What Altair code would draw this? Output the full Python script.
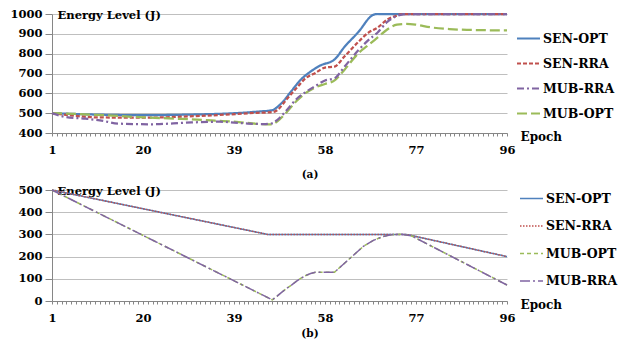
import altair as alt
import pandas as pd

FONT = "DejaVu Serif"

# ---------------- Panel (a) data ----------------
a_series = ["SEN-OPT", "SEN-RRA", "MUB-RRA", "MUB-OPT"]
a_colors = ["#4F81BD", "#C0504D", "#8064A2", "#9BBB59"]
a_dashes = [[1, 0], [4, 2], [7, 3, 2, 3], [10, 4]]

a_sen_opt_ep = [1, 10, 20, 30, 40, 44, 47, 48, 49, 51, 53, 55, 57, 60, 62, 65, 68, 69, 96]
a_sen_opt_v = [500, 493, 490, 493, 501, 508, 515, 530, 552, 612, 670, 710, 740, 771, 832, 910, 995, 1000, 1000]

a_sen_rra_ep = [1, 6, 10, 20, 28, 36, 44, 47, 48, 50, 52, 54, 56, 58, 60, 62, 65, 67, 69, 71, 73, 74, 96]
a_sen_rra_v = [500, 486, 479, 477, 482, 491, 502, 505, 515, 570, 625, 677, 703, 730, 735, 784, 860, 905, 932, 972, 992, 1000, 1000]

a_mub_rra_ep = [1, 4, 8, 11, 15, 22, 29, 36, 41, 45, 47, 48, 50, 52, 54, 56, 58, 60, 62, 65, 67, 69, 71, 73, 75, 96]
a_mub_rra_v = [500, 480, 472, 464, 447, 444, 452, 457, 449, 445, 449, 465, 515, 570, 607, 637, 665, 676, 732, 818, 867, 907, 960, 990, 1000, 1000]

a_mub_opt_ep = [1, 10, 20, 28, 35, 40, 44, 47, 48, 50, 52, 54, 56, 58, 60, 62, 65, 67, 69, 71, 73, 75, 77, 80, 84, 88, 96]
a_mub_opt_v = [500, 492, 479, 471, 462, 455, 446, 444, 458, 505, 560, 602, 630, 647, 665, 717, 803, 842, 882, 922, 946, 950, 946, 933, 924, 920, 917]

# ---------------- Panel (b) data ----------------
b_series = ["SEN-OPT", "SEN-RRA", "MUB-OPT", "MUB-RRA"]
b_colors = ["#4F81BD", "#C0504D", "#9BBB59", "#8064A2"]
b_dashes = [[1, 0], [1.5, 1.5], [4, 3], [10, 3, 2, 3]]

b_sen_ep = [1, 46, 75, 96]
b_sen_v = [500, 300, 300, 200]

b_mub_ep = [1, 47, 48, 49, 50, 51, 52, 53, 54, 55, 56, 60, 63, 66, 68, 70, 72, 74, 76, 96]
b_mub_v = [500, 5, 22, 40, 57, 72, 88, 103, 115, 124, 129, 130, 188, 246, 272, 290, 299, 301, 294, 72]

x_label_vals = [1, 20, 39, 58, 77, 96]


def frame(pairs):
    rows = []
    for name, eps, vals in pairs:
        for e, v in zip(eps, vals):
            rows.append({"series": name, "epoch": e, "value": v})
    return pd.DataFrame(rows)


df_a = frame([
    ("SEN-OPT", a_sen_opt_ep, a_sen_opt_v),
    ("SEN-RRA", a_sen_rra_ep, a_sen_rra_v),
    ("MUB-OPT", a_mub_opt_ep, a_mub_opt_v),
    ("MUB-RRA", a_mub_rra_ep, a_mub_rra_v),
])
df_b = frame([
    ("SEN-OPT", b_sen_ep, b_sen_v),
    ("SEN-RRA", b_sen_ep, b_sen_v),
    ("MUB-OPT", b_mub_ep, b_mub_v),
    ("MUB-RRA", b_mub_ep, b_mub_v),
])

W = 455
HA = 119
HB = 111
GRAY = "#868686"
label_expr = "indexof([" + ",".join(str(v) for v in x_label_vals) + "], datum.value) >= 0 ? datum.label : ''"


def panel(df, series, colors, dashes, ydom, ystep, h, width_px, legend_y, legend_x, row_pad, tag, tag_y, interp):
    xaxis = alt.Axis(
        values=list(range(1, 97)), labelExpr=label_expr, labelOverlap=False,
        grid=False, tickSize=3, tickColor=GRAY, domainColor=GRAY,
        labelFont=FONT, labelFontWeight="bold", labelFontSize=11.5, labelColor="black",
        labelPadding=8, labelFlush=False,
        title="Epoch", titleFont=FONT, titleFontWeight="bold", titleFontSize=12,
        titleX=W + 13, titleY=3, titleAlign="left", titleBaseline="middle", titleAnchor="start",
    )
    yaxis = alt.Axis(
        values=list(range(ydom[0], ydom[1] + 1, ystep)), format="d", grid=True, gridColor="#BFBFBF",
        tickSize=7, tickColor=GRAY, domainColor=GRAY,
        labelFont=FONT, labelFontWeight="bold", labelFontSize=11.5, labelColor="black",
        labelPadding=3,
        title="Energy Level (J)", titleFont=FONT, titleFontWeight="bold", titleFontSize=11.5,
        titleAngle=0, titleX=5, titleY=1, titleAlign="left", titleBaseline="middle",
    )
    legend = alt.Legend(
        orient="none", legendX=legend_x, legendY=legend_y, title=None, padding=0,
        symbolType="stroke", symbolSize=529, symbolStrokeWidth=min(width_px, 2),
        labelFont=FONT, labelFontWeight="bold", labelFontSize=12.5, labelColor="black",
        labelOffset=2, rowPadding=row_pad,
    )
    lines = alt.Chart(df).mark_line(strokeWidth=width_px, interpolate=interp).encode(
        x=alt.X("epoch:Q", scale=alt.Scale(domain=[1, 96], nice=False, zero=False), axis=xaxis),
        y=alt.Y("value:Q", scale=alt.Scale(domain=ydom, nice=False, zero=False), axis=yaxis),
        color=alt.Color("series:N", scale=alt.Scale(domain=series, range=colors), legend=legend),
        strokeDash=alt.StrokeDash("series:N", scale=alt.Scale(domain=series, range=dashes), legend=legend),
        detail="series:N",
    )
    label = alt.Chart(pd.DataFrame({"t": [tag]})).mark_text(
        font=FONT, fontWeight="bold", fontSize=10.5, color="black", align="center", baseline="middle"
    ).encode(text="t:N", x=alt.value(258), y=alt.value(tag_y))
    return alt.layer(lines, label).properties(width=W, height=h)


pa = panel(df_a, a_series, a_colors, a_dashes, [400, 1000], 100, HA, 2.25, 12, 464, 6, "(a)", HA + 42, "monotone")
pb = panel(df_b, b_series, b_colors, b_dashes, [0, 500], 100, HB, 1.5, -4, 467, 8.5, "(b)", HB + 33, "linear")

chart = alt.vconcat(pa, pb, spacing=3).resolve_scale(
    color="independent", strokeDash="independent", y="independent", x="independent"
).resolve_legend(color="independent", strokeDash="independent").configure_view(
    stroke=None
).properties(padding={"left": 1, "top": 0, "right": 0, "bottom": 0}, background="white")

chart.save("out.html", embed_options={"renderer": "svg", "actions": False})
